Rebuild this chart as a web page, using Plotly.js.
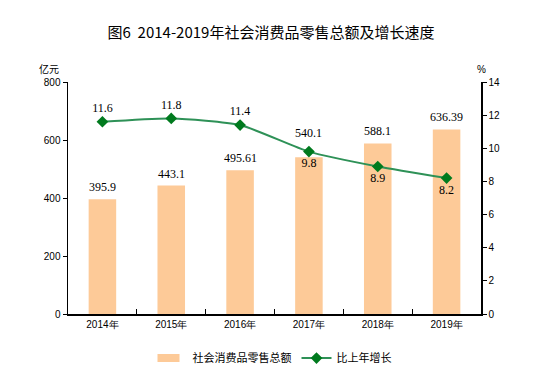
<!DOCTYPE html>
<html><head><meta charset="utf-8">
<script src="https://cdn.plot.ly/plotly-3.0.1.min.js"></script>
<style>body{margin:0;background:#fff}#c{width:542px;height:389px}</style>
</head><body><div id="c"></div>
<script>
const years = ['2014年','2015年','2016年','2017年','2018年','2019年'];
const sales = [395.9, 443.1, 495.61, 540.1, 588.1, 636.39];
const salesLabels = ['395.9','443.1','495.61','540.1','588.1','636.39'];
const growth = [11.6, 11.8, 11.4, 9.8, 8.9, 8.2];
const growthLabels = ['11.6','11.8','11.4','9.8','8.9','8.2'];

const serif = {family:'Liberation Serif, Times New Roman, serif', size:12, color:'#000'};
const traces = [
  {type:'bar', x:years, y:sales, name:'社会消费品零售总额', width:0.4,
   marker:{color:'#FDCA98'}, hoverinfo:'none'},
  {type:'scatter', mode:'lines+markers+text', x:years, y:growth, yaxis:'y2', name:'比上年增长',
   line:{color:'#2E9157', width:2, shape:'spline', smoothing:0.6},
   marker:{symbol:'diamond', size:9, color:'#007A1E'},
   text:growthLabels,
   textposition:growth.map((v,i)=> i<3 ? 'top center' : 'bottom center'),
   textfont:serif, cliponaxis:false, hoverinfo:'none'}
];
const tickfont = {family:'Liberation Sans, Arial, sans-serif', size:10, color:'#000'};
const barAnn = years.map((yr,i)=>({
  x:yr, y:sales[i], xref:'x', yref:'y', text:salesLabels[i], showarrow:false,
  yanchor:'bottom', yshift: (i===3 ? 15 : 3), font:serif
}));
const layout = {
  width:542, height:389,
  margin:{l:68, r:61, t:82, b:75},
  paper_bgcolor:'#fff', plot_bgcolor:'#fff',
  title:{text:'图6  2014-2019年社会消费品零售总额及增长速度', x:0.5, xanchor:'center', y:0.915, yanchor:'middle',
         font:{family:'Noto Sans CJK SC, sans-serif', size:15, color:'#000'}},
  showlegend:true,
  legend:{orientation:'h', x:0.5, xanchor:'center', y:-0.19, yanchor:'middle',
          font:{family:'Noto Sans CJK SC, sans-serif', size:11, color:'#000'}, traceorder:'normal'},
  xaxis:{type:'category', showline:true, linecolor:'#000', linewidth:1.5, ticks:'inside', tickson:'boundaries',
         ticklen:5, tickcolor:'#000', tickfont:tickfont, showgrid:false, zeroline:false},
  yaxis:{range:[0,800], dtick:200, showline:true, linecolor:'#000', linewidth:1.5, ticks:'outside', ticklen:4,
         tickcolor:'#000', tickfont:tickfont, showgrid:false, zeroline:false},
  yaxis2:{range:[0,14], dtick:2, overlaying:'y', side:'right', showline:true, linecolor:'#000', linewidth:1.5,
          ticks:'outside', ticklen:4, tickcolor:'#000', tickfont:tickfont, showgrid:false, zeroline:false},
  annotations:[
    {text:'亿元', xref:'paper', yref:'paper', x:-0.045, y:1.06, xanchor:'center', yanchor:'middle', showarrow:false,
     font:{family:'Noto Sans CJK SC, sans-serif', size:10, color:'#000'}},
    {text:'%', xref:'paper', yref:'paper', x:1.0, y:1.055, xanchor:'center', yanchor:'middle', showarrow:false,
     font:{family:'Liberation Sans, Arial, sans-serif', size:10, color:'#000'}}
  ].concat(barAnn)
};
Plotly.newPlot('c', traces, layout, {staticPlot:true, displayModeBar:false}).then(()=>{
  // flat rectangular swatch for the bar legend entry, like the reference
  const t = document.querySelectorAll('.legend .traces')[0];
  if (t) { const p = t.querySelector('.legendpoints path'); if (p) p.setAttribute('d','M-15,-4h22v8h-22Z'); }
});
</script></body></html>
